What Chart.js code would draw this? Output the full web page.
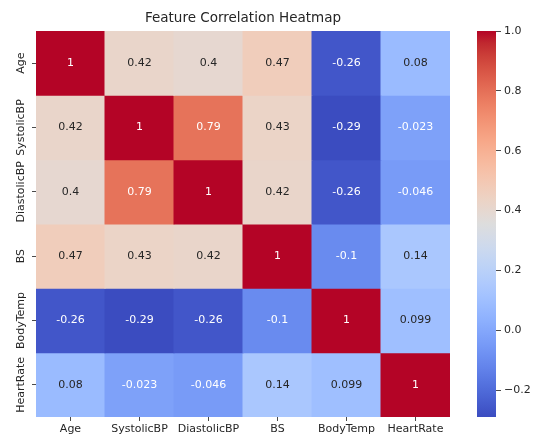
<!DOCTYPE html>
<html>
<head>
<meta charset="utf-8">
<title>Feature Correlation Heatmap</title>
<script src="https://cdn.jsdelivr.net/npm/chart.js@4/dist/chart.umd.min.js"></script>
<style>
  html, body { margin: 0; padding: 0; background: #ffffff; }
  #wrap { position: relative; width: 533px; height: 437px; overflow: hidden; }
  #wrap canvas { position: absolute; top: 0; }
  #heat { left: 0; }
  #cbar { left: 460px; }
</style>
</head>
<body>
<div id="wrap">
  <canvas id="heat" width="533" height="437"></canvas>
  <canvas id="cbar" width="73" height="437"></canvas>
</div>
<script>
// Features, in row/column order
const categories = ['Age', 'SystolicBP', 'DiastolicBP', 'BS', 'BodyTemp', 'HeartRate'];

// Pairwise correlation coefficients, one row per feature
const rowAge         = [1,     0.42,   0.4,    0.47,  -0.26,  0.08];
const rowSystolicBP  = [0.42,  1,      0.79,   0.43,  -0.29, -0.023];
const rowDiastolicBP = [0.4,   0.79,   1,      0.42,  -0.26, -0.046];
const rowBS          = [0.47,  0.43,   0.42,   1,     -0.1,   0.14];
const rowBodyTemp    = [-0.26, -0.29,  -0.26,  -0.1,   1,     0.099];
const rowHeartRate   = [0.08,  -0.023, -0.046, 0.14,   0.099, 1];

// Colour bar tick values
const colorbarTicks = [-0.2, 0.0, 0.2, 0.4, 0.6, 0.8, 1.0];

const rows = [rowAge, rowSystolicBP, rowDiastolicBP, rowBS, rowBodyTemp, rowHeartRate];
const allValues = rows.flat();
const vmin = Math.min(...allValues);
const vmax = Math.max(...allValues);

const FONT = "'DejaVu Sans', 'Liberation Sans', sans-serif";
const INK = '#262626';
const TICK = '#4a4a4a';

// Moreland's cool-warm diverging colour map (33 control points)
const coolwarm = [
  [59, 76, 192], [68, 90, 204], [77, 104, 215], [87, 117, 225], [98, 130, 234],
  [108, 142, 241], [119, 154, 247], [130, 165, 251], [141, 176, 254], [152, 185, 255],
  [163, 194, 255], [174, 201, 253], [184, 208, 249], [194, 213, 244], [204, 217, 238],
  [213, 219, 230], [221, 221, 221], [229, 216, 209], [236, 211, 197], [241, 204, 185],
  [245, 196, 173], [247, 187, 160], [247, 177, 148], [247, 166, 135], [244, 154, 123],
  [241, 141, 111], [236, 127, 99], [229, 112, 88], [222, 96, 77], [213, 80, 66],
  [203, 62, 56], [192, 40, 47], [180, 4, 38]
];

function norm(v) {
  return Math.min(1, Math.max(0, (v - vmin) / (vmax - vmin)));
}

function cmapRGB(t) {
  const n = coolwarm.length - 1;
  const p = t * n;
  const k = Math.min(n - 1, Math.floor(p));
  const f = p - k;
  const a = coolwarm[k], b = coolwarm[k + 1];
  return [0, 1, 2].map(c => Math.round(a[c] + (b[c] - a[c]) * f));
}

function rgb(c) { return `rgb(${c[0]}, ${c[1]}, ${c[2]})`; }

// Light text on dark cells, dark text on light cells
function textColorFor(v) {
  const lin = cmapRGB(norm(v)).map(c => {
    const s = c / 255;
    return s <= 0.03928 ? s / 12.92 : Math.pow((s + 0.055) / 1.055, 2.4);
  });
  const lum = 0.2126 * lin[0] + 0.7152 * lin[1] + 0.0722 * lin[2];
  return lum > 0.408 ? INK : '#ffffff';
}

// Two significant digits, trailing zeros dropped
function fmt(v) {
  return String(Number(v.toPrecision(2)));
}

// Writes each coefficient at the centre of its cell
const cellLabels = {
  id: 'cellLabels',
  afterDatasetsDraw(chart) {
    const ctx = chart.ctx;
    ctx.save();
    ctx.font = `11px ${FONT}`;
    ctx.textAlign = 'center';
    ctx.textBaseline = 'middle';
    chart.data.datasets.forEach((ds, i) => {
      chart.getDatasetMeta(i).data.forEach((bar, j) => {
        const v = rows[i][j];
        ctx.fillStyle = textColorFor(v);
        ctx.fillText(fmt(v), bar.x, (bar.y + bar.base) / 2);
      });
    });
    ctx.restore();
  }
};

// Vertical feature names beside each row
const rowLabels = {
  id: 'rowLabels',
  afterDraw(chart) {
    const ctx = chart.ctx;
    const y = chart.scales.y;
    ctx.save();
    ctx.font = `11px ${FONT}`;
    ctx.fillStyle = INK;
    ctx.textAlign = 'center';
    ctx.textBaseline = 'middle';
    categories.forEach((name, i) => {
      ctx.save();
      ctx.translate(y.right - 14.5, y.getPixelForValue(i + 0.5));
      ctx.rotate(-Math.PI / 2);
      ctx.fillText(name, 0, 0);
      ctx.restore();
    });
    ctx.restore();
  }
};

new Chart(document.getElementById('heat'), {
  type: 'bar',
  data: {
    labels: categories,
    datasets: rows.map((row, i) => ({
      label: categories[i],
      data: row.map(() => [i, i + 1]),
      backgroundColor: row.map(v => rgb(cmapRGB(norm(v)))),
      borderWidth: 0,
      categoryPercentage: 1,
      barPercentage: 1,
      grouped: false,
      inflateAmount: 0.5
    }))
  },
  options: {
    responsive: false,
    animation: false,
    devicePixelRatio: 1,
    layout: { padding: { left: 0, right: 83, top: 0, bottom: 0 } },
    plugins: {
      legend: { display: false },
      tooltip: { enabled: false },
      title: {
        display: true,
        text: 'Feature Correlation Heatmap',
        fullSize: false,
        color: INK,
        font: { family: FONT, size: 13.5, weight: 'normal' },
        padding: { top: 10.5, bottom: 4.3 }
      }
    },
    scales: {
      x: {
        type: 'category',
        offset: true,
        grid: { offset: false, drawOnChartArea: false, drawTicks: true, tickLength: 4, color: TICK, lineWidth: 1 },
        border: { display: false },
        ticks: { color: INK, font: { family: FONT, size: 11 }, padding: 2, minRotation: 0, maxRotation: 0, autoSkip: false },
        afterFit(scale) { scale.height = 20; }
      },
      y: {
        type: 'linear',
        min: 0,
        max: 6,
        reverse: true,
        afterBuildTicks(scale) { scale.ticks = categories.map((_, i) => ({ value: i + 0.5 })); },
        grid: { drawOnChartArea: false, drawTicks: true, tickLength: 4, color: TICK, lineWidth: 1 },
        border: { display: false },
        ticks: { display: false },
        afterFit(scale) { scale.width = 36; }
      }
    }
  },
  plugins: [cellLabels, rowLabels]
});

// Colour bar: one floating bar spanning the data range, filled with the colour map
function barGradient(chart) {
  const y = chart.scales.y;
  const fallback = rgb(cmapRGB(0.5));
  if (!y) return fallback;
  const y0 = y.getPixelForValue(vmin);
  const y1 = y.getPixelForValue(vmax);
  if (!Number.isFinite(y0) || !Number.isFinite(y1) || y0 === y1) return fallback;
  const g = chart.ctx.createLinearGradient(0, y0, 0, y1);
  coolwarm.forEach((c, k) => g.addColorStop(k / (coolwarm.length - 1), rgb(c)));
  return g;
}

new Chart(document.getElementById('cbar'), {
  type: 'bar',
  data: {
    labels: [''],
    datasets: [{
      data: [[vmin, vmax]],
      backgroundColor: ctx => barGradient(ctx.chart),
      borderWidth: 0,
      categoryPercentage: 1,
      barPercentage: 1,
      inflateAmount: 0
    }]
  },
  options: {
    responsive: false,
    animation: false,
    devicePixelRatio: 1,
    layout: { padding: { left: 17, top: 31, bottom: 20, right: 0 } },
    plugins: { legend: { display: false }, tooltip: { enabled: false } },
    scales: {
      x: { display: false },
      y: {
        position: 'right',
        min: vmin,
        max: vmax,
        afterBuildTicks(scale) { scale.ticks = colorbarTicks.map(v => ({ value: v })); },
        grid: { drawOnChartArea: false, drawTicks: true, tickLength: 5, color: TICK, lineWidth: 1 },
        border: { display: false },
        ticks: {
          color: INK,
          font: { family: FONT, size: 11 },
          padding: 3,
          callback: v => (v < -1e-9 ? '\u2212' : '') + Math.abs(v).toFixed(1)
        },
        afterFit(scale) { scale.width = 37; }
      }
    }
  }
});
</script>
</body>
</html>
